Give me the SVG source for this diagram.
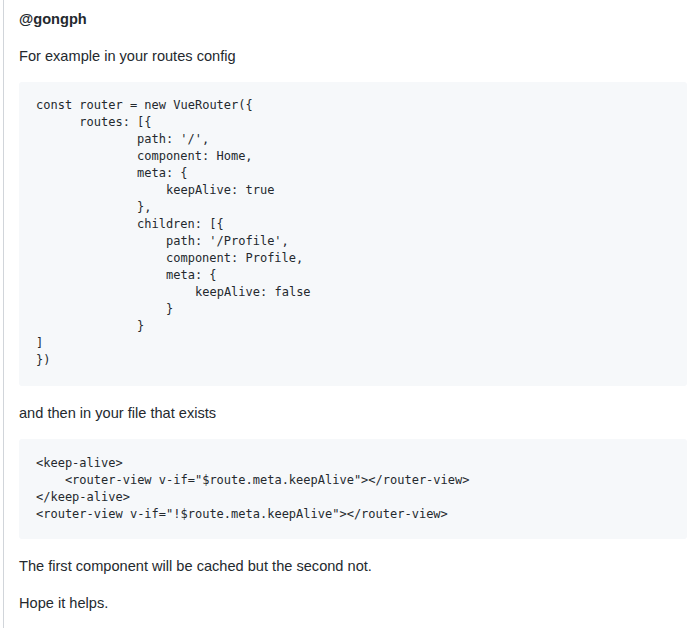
<svg xmlns="http://www.w3.org/2000/svg" width="699" height="628" viewBox="0 0 699 628">
<style>
.t{font-family:"Liberation Sans",Arial,sans-serif;font-size:14.6px;fill:#24292e}
.c{font-family:"DejaVu Sans Mono","Liberation Mono",monospace;font-size:12px;fill:#24292e}
.b{fill:#f6f8fa}
</style>
<rect width="699" height="628" fill="#fff"/>
<line x1="3.5" y1="0" x2="3.5" y2="628" stroke="#d1d5da"/>
<text class="t" x="19" y="24" font-weight="bold">@gongph</text>
<text class="t" x="19" y="61">For example in your routes config</text>
<rect class="b" x="19" y="82" width="668" height="304" rx="3"/>
<g class="c">
<text x="36" y="109">const router = new VueRouter({</text>
<text x="79.3" y="126">routes: [{</text>
<text x="137" y="143">path: '/',</text>
<text x="137" y="160">component: Home,</text>
<text x="137" y="177">meta: {</text>
<text x="166" y="194">keepAlive: true</text>
<text x="137" y="211">},</text>
<text x="137" y="228">children: [{</text>
<text x="166" y="245">path: '/Profile',</text>
<text x="166" y="262">component: Profile,</text>
<text x="166" y="279">meta: {</text>
<text x="195" y="296">keepAlive: false</text>
<text x="166" y="313">}</text>
<text x="137" y="330">}</text>
<text x="36" y="347">]</text>
<text x="36" y="364">})</text>
</g>
<text class="t" x="19" y="418">and then in your file that exists</text>
<rect class="b" x="19" y="439" width="668" height="100" rx="3"/>
<g class="c">
<text x="36" y="467">&lt;keep-alive&gt;</text>
<text x="64.9" y="484">&lt;router-view v-if="$route.meta.keepAlive"&gt;&lt;/router-view&gt;</text>
<text x="36" y="501">&lt;/keep-alive&gt;</text>
<text x="36" y="518">&lt;router-view v-if="!$route.meta.keepAlive"&gt;&lt;/router-view&gt;</text>
</g>
<text class="t" x="19" y="571">The first component will be cached but the second not.</text>
<text class="t" x="19" y="608">Hope it helps.</text>
</svg>
